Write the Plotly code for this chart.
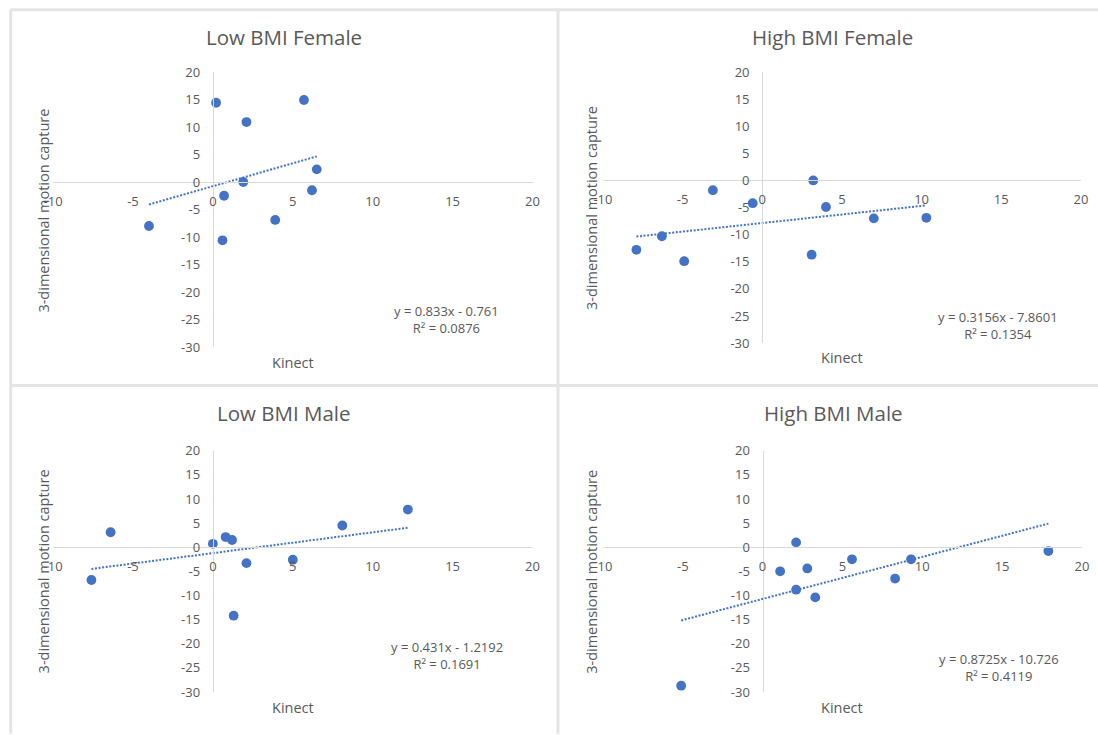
import plotly.graph_objects as go

# The captured page (8px body margin around the figure) is scaled down to 1098x735,
# so reference page pixels are mapped back to figure pixels below.
PAGE_W, PAGE_H = 1098, 735
OFF = 8
FW, FH = PAGE_W, PAGE_H
SX = (FW + 2 * OFF) / PAGE_W
SY = (FH + 2 * OFF) / PAGE_H

# ---- data ----
titles = ["Low BMI Female", "High BMI Female", "Low BMI Male", "High BMI Male"]

lbf_x = [0.2, 5.7, 2.1, 6.5, 1.9, 0.7, 6.2, 3.9, -4.0, 0.6]
lbf_y = [14.4, 14.9, 10.9, 2.3, 0.0, -2.5, -1.5, -6.9, -8.0, -10.6]

hbf_x = [3.2, -3.1, -0.6, 4.0, 7.0, 10.3, -6.3, -7.9, -4.9, 3.1]
hbf_y = [0.0, -1.8, -4.2, -4.9, -7.0, -6.9, -10.3, -12.8, -14.9, -13.7]

lbm_x = [12.2, 8.1, -6.4, 0.8, 1.2, 0.0, 2.1, 5.0, -7.6, 1.3]
lbm_y = [7.8, 4.5, 3.1, 2.1, 1.5, 0.7, -3.3, -2.6, -6.8, -14.2]

hbm_x = [2.1, 17.9, 5.6, 9.3, 1.1, 2.8, 8.3, 2.1, 3.3, -5.1]
hbm_y = [1.0, -0.8, -2.5, -2.5, -5.0, -4.4, -6.5, -8.8, -10.4, -28.7]

slopes = [0.833, 0.3156, 0.431, 0.8725]
intercepts = [-0.761, -7.8601, -1.2192, -10.726]
equations = ["y = 0.833x - 0.761", "y = 0.3156x - 7.8601",
             "y = 0.431x - 1.2192", "y = 0.8725x - 10.726"]
r2_labels = ["R² = 0.0876", "R² = 0.1354", "R² = 0.1691", "R² = 0.4119"]

x_ticks = [-10, -5, 0, 5, 10, 15, 20]
y_ticks = [20, 15, 10, 5, 0, -5, -10, -15, -20, -25, -30]
x_title = "Kinect"
y_title = "3-dimensional motion capture"

xs = [lbf_x, hbf_x, lbm_x, hbm_x]
ys = [lbf_y, hbf_y, lbm_y, hbm_y]

# ---- layout geometry (reference page pixels) ----
areas = [(51, 531, 71, 347), (601.5, 1080, 71, 343),
         (51, 531, 451, 693), (601.5, 1081, 451, 693)]
title_pos = [(282, 36), (831, 36), (282, 413), (832, 413)]
kinect_pos = [(291, 362), (841, 357), (291, 709), (841, 709)]
ytitle_pos = [(41, 210), (590, 207), (41, 572), (590, 572)]
eq_pos = [(445, 310), (997, 316), (445, 647), (998, 659)]

BLUE = "#4472C4"
GRAY_TXT = "#595959"
AXIS = "#d9d9d9"
FONT = "'Open Sans', Lato, sans-serif"
XR = [-10, 20]
YR = [-30, 20]


def px(x):
    return (x * SX - OFF) / FW


def py(y):
    return 1 - (y * SY - OFF) / FH


fig = go.Figure()
layout = {}
annotations = []

for i in range(4):
    l, r, t, b = areas[i]
    xd = [px(l), px(r)]
    yd = [py(b), py(t)]
    n = "" if i == 0 else str(i + 1)
    xa, ya = "x" + n, "y" + n
    ypos = yd[0] + (0 - YR[0]) / (YR[1] - YR[0]) * (yd[1] - yd[0])
    xpos = xd[0] + (0 - XR[0]) / (XR[1] - XR[0]) * (xd[1] - xd[0])
    layout["xaxis" + n] = dict(
        domain=xd, range=XR, anchor="free", position=ypos,
        tickvals=x_ticks, ticktext=[str(v) for v in x_ticks],
        showgrid=False, zeroline=False, showline=True, linecolor=AXIS,
        linewidth=1.3, ticks="", ticklabelstandoff=7,
        tickfont=dict(family=FONT, size=13, color=GRAY_TXT), fixedrange=True)
    layout["yaxis" + n] = dict(
        domain=yd, range=YR, anchor="free", position=xpos,
        tickvals=y_ticks, ticktext=[str(v) for v in y_ticks],
        showgrid=False, zeroline=False, showline=True, linecolor=AXIS,
        linewidth=1.3, ticks="", ticklabelstandoff=10,
        tickfont=dict(family=FONT, size=13, color=GRAY_TXT), fixedrange=True)

    # trendline from the equation across the data range
    x0, x1 = min(xs[i]), max(xs[i])
    fig.add_trace(go.Scatter(
        x=[x0, x1], y=[slopes[i] * x0 + intercepts[i], slopes[i] * x1 + intercepts[i]],
        mode="lines", line=dict(color=BLUE, width=2, dash="2px,1.6px"),
        xaxis=xa, yaxis=ya, showlegend=False, hoverinfo="skip"))
    fig.add_trace(go.Scatter(
        x=xs[i], y=ys[i], mode="markers",
        marker=dict(color=BLUE, size=9.8, line=dict(width=0)),
        xaxis=xa, yaxis=ya, showlegend=False))

    annotations.append(dict(text=titles[i], x=px(title_pos[i][0]), y=py(title_pos[i][1]),
                            xref="paper", yref="paper", showarrow=False,
                            xanchor="center", yanchor="middle",
                            font=dict(family=FONT, size=20.5, color=GRAY_TXT)))
    annotations.append(dict(text=x_title, x=px(kinect_pos[i][0]), y=py(kinect_pos[i][1]),
                            xref="paper", yref="paper", showarrow=False,
                            xanchor="center", yanchor="middle",
                            font=dict(family=FONT, size=14.5, color=GRAY_TXT)))
    annotations.append(dict(text=y_title, x=px(ytitle_pos[i][0]), y=py(ytitle_pos[i][1]),
                            xref="paper", yref="paper", showarrow=False, textangle=-90,
                            xanchor="center", yanchor="middle",
                            font=dict(family=FONT, size=14.5, color=GRAY_TXT)))
    annotations.append(dict(text=equations[i] + "<br>" + r2_labels[i],
                            x=px(eq_pos[i][0]), y=py(eq_pos[i][1] + 9),
                            xref="paper", yref="paper", showarrow=False,
                            xanchor="center", yanchor="middle", align="center",
                            font=dict(family=FONT, size=13, color=GRAY_TXT)))

# chart frames
BORDER = "#e4e4e4"
shapes = []
for (x0, y0, x1, y1) in [(8.6, 8.6, PAGE_W, 8.6), (8.6, 8.6, 8.6, PAGE_H),
                         (556.5, 8.6, 556.5, PAGE_H), (8.6, 385.5, PAGE_W, 385.5)]:
    shapes.append(dict(type="line", xref="paper", yref="paper",
                       x0=px(x0), y0=py(y0), x1=px(x1), y1=py(y1),
                       line=dict(color=BORDER, width=3), layer="below"))

fig.update_layout(
    width=FW, height=FH, margin=dict(l=0, r=0, t=0, b=0),
    paper_bgcolor="white", plot_bgcolor="white",
    annotations=annotations, shapes=shapes, **layout)

fig.write_html("out.html")
